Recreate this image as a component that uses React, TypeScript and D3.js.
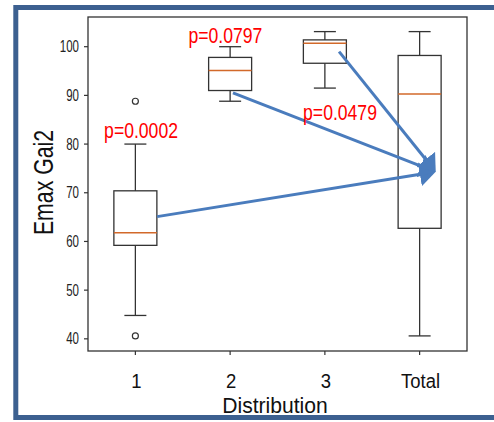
import React from "react";
import * as d3 from "d3";

// box plot stats
const categories = ["1", "2", "3", "Total"];
const whiskerLow = [44.8, 88.8, 91.5, 40.6];
const q1 = [59.2, 91.0, 96.6, 62.7];
const medians = [61.8, 95.1, 100.7, 90.3];
const q3 = [70.4, 97.8, 101.4, 98.2];
const whiskerHigh = [80.0, 100.0, 103.1, 103.1];
const outliers = [[88.8, 40.6], [], [], []];
const yTicks = [40, 50, 60, 70, 80, 90, 100];

// annotations, in data units (category position, value)
const pLabels = ["p=0.0002", "p=0.0797", "p=0.0479"];
const pLabelAt = [
  [0.67, 81.2],
  [1.56, 100.8],
  [2.77, 85.0],
];
const arrowFrom = [
  [1.23, 65.1],
  [2.03, 90.5],
  [3.15, 99.0],
];
const arrowTo = [4.17, 74.3];

const W = 494;
const H = 422;
const plot = { left: 88, right: 467, top: 17, bottom: 351 };

const App = () => {
  const x = d3.scaleLinear().domain([0.5, 4.5]).range([plot.left, plot.right]);
  const y = d3.scaleLinear().domain([37.5, 106.1]).range([plot.bottom, plot.top]);

  const boxHalf = 21.5;
  const capHalf = 11;
  const ink = "#333";
  const blue = "#4a7cbd";

  const tx = x(arrowTo[0]);
  const ty = y(arrowTo[1]);

  return (
    <svg
      width={W}
      height={H}
      style={{ position: "absolute", left: 0, top: 0, display: "block" }}
      fontFamily="'Liberation Sans', Arial, sans-serif"
    >
      <defs>
        <marker
          id="head"
          markerUnits="userSpaceOnUse"
          viewBox="0 0 16 24"
          markerWidth={16}
          markerHeight={24}
          refX={5}
          refY={12}
          orient="auto"
        >
          <path d="M0,0 L16,12 L0,24 z" fill={blue} />
        </marker>
      </defs>
      <rect width={W} height={H} fill="#fff" />

      {/* blue slide frame */}
      <path
        d={`M${W},7.5 L15.8,7.5 L15.8,417.5 L${W},417.5`}
        fill="none"
        stroke="#3c6090"
        strokeWidth={5}
      />

      {/* axes frame */}
      <rect
        x={plot.left}
        y={plot.top}
        width={plot.right - plot.left}
        height={plot.bottom - plot.top}
        fill="none"
        stroke={ink}
        strokeWidth={1.3}
      />

      {/* y ticks */}
      {yTicks.map((t) => (
        <g key={t}>
          <line x1={plot.left - 4} x2={plot.left} y1={y(t)} y2={y(t)} stroke={ink} strokeWidth={1.2} />
          <text
            transform={`translate(${plot.left - 9},${y(t) + 5.5}) scale(0.72,1)`}
            textAnchor="end"
            fontSize={16}
            fill="#222"
          >
            {t}
          </text>
        </g>
      ))}

      {/* x ticks */}
      {categories.map((c, i) => (
        <g key={c}>
          <line x1={x(i + 1)} x2={x(i + 1)} y1={plot.bottom} y2={plot.bottom + 4} stroke={ink} strokeWidth={1.2} />
          <text
            transform={`translate(${x(i + 1) + 1},388) scale(0.88,1)`}
            textAnchor="middle"
            fontSize={21}
            fill="#111"
          >
            {c}
          </text>
        </g>
      ))}

      <text transform="translate(275,413) scale(0.96,1)" textAnchor="middle" fontSize={22} fill="#111">
        Distribution
      </text>
      <text
        transform={`translate(53,182.5) rotate(-90) scale(0.76,1)`}
        textAnchor="middle"
        fontSize={28}
        fill="#111"
      >
        Emax Gai2
      </text>

      {/* boxes */}
      {categories.map((c, i) => {
        const cx = x(i + 1);
        return (
          <g key={"b" + c} stroke={ink} strokeWidth={1.3} fill="none">
            <line x1={cx} x2={cx} y1={y(whiskerHigh[i])} y2={y(q3[i])} />
            <line x1={cx} x2={cx} y1={y(q1[i])} y2={y(whiskerLow[i])} />
            <line x1={cx - capHalf} x2={cx + capHalf} y1={y(whiskerHigh[i])} y2={y(whiskerHigh[i])} />
            <line x1={cx - capHalf} x2={cx + capHalf} y1={y(whiskerLow[i])} y2={y(whiskerLow[i])} />
            <rect x={cx - boxHalf} y={y(q3[i])} width={boxHalf * 2} height={y(q1[i]) - y(q3[i])} />
            <line
              x1={cx - boxHalf}
              x2={cx + boxHalf}
              y1={y(medians[i])}
              y2={y(medians[i])}
              stroke="#d2692a"
              strokeWidth={1.6}
            />
            {outliers[i].map((o) => (
              <circle key={o} cx={cx} cy={y(o)} r={3} strokeWidth={1.2} />
            ))}
          </g>
        );
      })}

      {/* arrows */}
      {arrowFrom.map((a, i) => {
        const sx = x(a[0]);
        const sy = y(a[1]);
        const len = Math.hypot(tx - sx, ty - sy);
        const ex = tx - ((tx - sx) / len) * 11;
        const ey = ty - ((ty - sy) / len) * 11;
        return (
          <line
            key={"a" + i}
            x1={sx}
            y1={sy}
            x2={ex}
            y2={ey}
            stroke={blue}
            strokeWidth={3}
            markerEnd="url(#head)"
          />
        );
      })}

      {/* p-values */}
      {pLabels.map((p, i) => (
        <text
          key={p}
          transform={`translate(${x(pLabelAt[i][0])},${y(pLabelAt[i][1])}) scale(0.8,1)`}
          fontSize={22}
          fill="#ff0000"
        >
          {p}
        </text>
      ))}
    </svg>
  );
};

export default App;
